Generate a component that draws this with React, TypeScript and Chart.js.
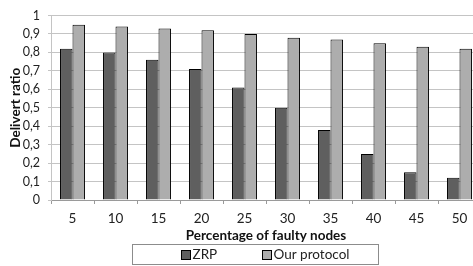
import React, { useEffect, useRef } from "react";
import { Chart, registerables } from "chart.js";

Chart.register(...registerables);

const categories = ["5", "10", "15", "20", "25", "30", "35", "40", "45", "50"];
const zrpValues = [0.82, 0.8, 0.76, 0.71, 0.61, 0.5, 0.38, 0.25, 0.15, 0.12];
const ourValues = [0.95, 0.94, 0.93, 0.92, 0.9, 0.88, 0.87, 0.85, 0.83, 0.82];
const yTickLabels = ["0", "0,1", "0,2", "0,3", "0,4", "0,5", "0,6", "0,7", "0,8", "0,9", "1"];
const seriesNames = ["ZRP", "Our protocol"];
const seriesColors = ["#5f5f5f", "#adadad"];

const FONT = "Lato, 'Open Sans', sans-serif";

const boxedLegend = {
  id: "boxedLegend",
  afterDraw(chart: any) {
    const { ctx, chartArea } = chart;
    const cx = (chartArea.left + chartArea.right) / 2 - 11;
    const w = 246;
    const h = 20;
    const left = Math.round(cx - w / 2) + 0.5;
    const top = Math.round(chart.height - 22) + 0.5;
    ctx.save();
    ctx.strokeStyle = "#8c8c8c";
    ctx.lineWidth = 1;
    ctx.fillStyle = "#ffffff";
    ctx.fillRect(left, top, w, h);
    ctx.strokeRect(left, top, w, h);
    ctx.font = `13.5px ${FONT}`;
    ctx.textBaseline = "middle";
    ctx.textAlign = "left";
    chart.data.datasets.forEach((ds: any, i: number) => {
      const sx = Math.round(left + 48 + i * 81) + 0.5;
      const sy = Math.round(top + h / 2 - 4.5) + 0.5;
      ctx.fillStyle = ds.backgroundColor;
      ctx.fillRect(sx, sy, 9, 9);
      ctx.strokeStyle = "#000";
      ctx.strokeRect(sx, sy, 9, 9);
      ctx.fillStyle = "#222";
      ctx.fillText(ds.label, sx + 11, top + h / 2 + 0.5);
    });
    ctx.restore();
  },
};

export default function App() {
  const ref = useRef<HTMLCanvasElement | null>(null);
  useEffect(() => {
    if (!ref.current) return;
    const chart = new Chart(ref.current, {
      type: "bar",
      data: {
        labels: categories,
        datasets: [
          {
            label: seriesNames[0],
            data: zrpValues,
            backgroundColor: seriesColors[0],
            borderColor: "#000",
            borderWidth: 1,
            categoryPercentage: 0.58,
            barPercentage: 1.0,
          },
          {
            label: seriesNames[1],
            data: ourValues,
            backgroundColor: seriesColors[1],
            borderColor: "#000",
            borderWidth: 1,
            categoryPercentage: 0.58,
            barPercentage: 1.0,
          },
        ],
      },
      options: {
        animation: false,
        responsive: false,
        maintainAspectRatio: false,
        layout: { padding: { left: 5, top: 14, right: 0, bottom: 22 } },
        plugins: {
          legend: { display: false },
          tooltip: { enabled: false },
        },
        scales: {
          x: {
            afterFit: (scale: any) => {
              scale.height = 44;
            },
            grid: {
              offset: true,
              drawOnChartArea: false,
              drawTicks: true,
              tickLength: 4,
              color: "#9a9a9a",
            },
            border: { color: "#9a9a9a" },
            ticks: {
              color: "#222",
              font: { family: FONT, size: 13.5 },
              padding: 7,
              maxRotation: 0,
            },
            title: {
              display: true,
              text: "Percentage of faulty nodes",
              color: "#111",
              font: { family: FONT, size: 13.5, weight: "bold", lineHeight: 1.0 },
              padding: { top: 0, bottom: 2 },
            },
          },
          y: {
            min: 0,
            max: 1,
            afterFit: (scale: any) => {
              scale.width = 46;
            },
            ticks: {
              stepSize: 0.1,
              autoSkip: false,
              color: "#222",
              font: { family: FONT, size: 12.5 },
              padding: 8,
              callback: (_v: any, i: number) => yTickLabels[i],
            },
            grid: { color: "#c4c4c4", tickLength: 3 },
            border: { color: "#c4c4c4" },
            title: {
              display: true,
              text: "Delivert ratio",
              color: "#111",
              font: { family: FONT, size: 13.5, weight: "bold", lineHeight: 1.0 },
              padding: { top: 4, bottom: 0 },
            },
          },
        },
      },
      plugins: [boxedLegend],
    });
    return () => chart.destroy();
  }, []);
  return (
    <div
      style={{
        position: "fixed",
        left: 0,
        top: 0,
        width: 473,
        height: 266,
        overflow: "hidden",
        background: "#fff",
      }}
    >
      <canvas ref={ref} width={481} height={266} style={{ display: "block" }} />
    </div>
  );
}
